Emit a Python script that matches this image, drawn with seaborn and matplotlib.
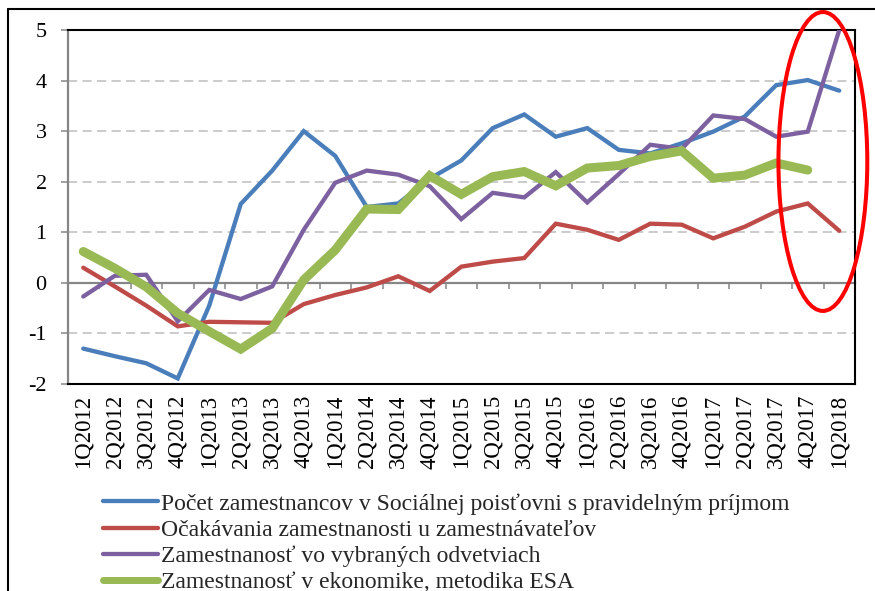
import numpy as np
import pandas as pd
import matplotlib
matplotlib.use("Agg")
import matplotlib.pyplot as plt
from matplotlib.patches import Ellipse
from matplotlib.lines import Line2D
import seaborn as sns

quarters = ["1Q2012", "2Q2012", "3Q2012", "4Q2012", "1Q2013", "2Q2013", "3Q2013", "4Q2013",
            "1Q2014", "2Q2014", "3Q2014", "4Q2014", "1Q2015", "2Q2015", "3Q2015", "4Q2015",
            "1Q2016", "2Q2016", "3Q2016", "4Q2016", "1Q2017", "2Q2017", "3Q2017", "4Q2017",
            "1Q2018"]

social_insurance = [-1.30, -1.45, -1.59, -1.89, -0.45, 1.56, 2.22, 3.00, 2.51, 1.50, 1.57, 2.06,
                    2.42, 3.06, 3.33, 2.89, 3.06, 2.63, 2.56, 2.76, 2.99, 3.29, 3.91, 4.01, 3.80]
employer_expectations = [0.30, -0.07, -0.45, -0.86, -0.77, -0.78, -0.79, -0.42, -0.24, -0.09, 0.13, -0.16,
                         0.32, 0.42, 0.49, 1.17, 1.05, 0.85, 1.17, 1.15, 0.88, 1.11, 1.41, 1.57, 1.03]
selected_sectors = [-0.27, 0.14, 0.16, -0.76, -0.14, -0.32, -0.07, 1.05, 1.98, 2.22, 2.14, 1.91,
                    1.26, 1.78, 1.69, 2.19, 1.59, 2.15, 2.73, 2.65, 3.31, 3.24, 2.89, 2.99, 5.00]
esa_employment = [0.62, 0.29, -0.08, -0.60, -0.96, -1.31, -0.90, 0.06, 0.65, 1.46, 1.45, 2.12,
                  1.75, 2.10, 2.20, 1.92, 2.27, 2.32, 2.50, 2.61, 2.07, 2.13, 2.37, 2.23, np.nan]

series_names = [
    "Počet zamestnancov v Sociálnej poisťovni s pravidelným príjmom",
    "Očakávania zamestnanosti u zamestnávateľov",
    "Zamestnanosť vo vybraných odvetviach",
    "Zamestnanosť v ekonomike, metodika ESA",
]
series_values = [social_insurance, employer_expectations, selected_sectors, esa_employment]
colors = ["#4A7EBB", "#BE4B48", "#7D60A0", "#98B954"]
widths = [3.1, 3.1, 3.1, 6.5]

y_ticks = [-2, -1, 0, 1, 2, 3, 4, 5]

sns.set_theme(style="white")
plt.rcParams["font.family"] = ["Liberation Serif", "DejaVu Serif"]
plt.rcParams["axes.unicode_minus"] = False

fig = plt.figure(figsize=(8.75, 5.91), dpi=100)
W, H = 875, 591
ax = fig.add_axes([67.5 / W, 1 - 384 / H, (855 - 67.5) / W, (384 - 30) / H])

idx = np.arange(len(quarters))
handles = []
for name, vals, c, lw in zip(series_names, series_values, colors, widths):
    df = pd.DataFrame({"x": idx, "y": vals})
    sns.lineplot(data=df, x="x", y="y", ax=ax, color=c, linewidth=lw,
                 solid_capstyle="round", solid_joinstyle="miter", legend=False, zorder=3)
    handles.append(Line2D([0], [0], color=c, lw=min(lw, 5.0), solid_capstyle="round", label=name))

ax.set_xlim(-0.5, len(quarters) - 0.5)
ax.set_ylim(-2, 5)
ax.set_yticks(y_ticks)
ax.set_yticklabels([str(v) for v in y_ticks])
ax.set_xticks(idx)
ax.set_xticklabels(quarters, rotation=90)
ax.set_xlabel("")
ax.set_ylabel("")

ax.tick_params(axis="x", length=0, pad=8, labelsize=16.5, colors="black")
ax.tick_params(axis="y", left=True, length=5, width=1.1, color="#868686", pad=10,
               labelsize=16, labelcolor="black", direction="out")

ax.yaxis.grid(True, color="#BDBDBD", linewidth=1.1, linestyle=(0, (6, 3.5)))
ax.xaxis.grid(False)

for side in ["top", "right", "bottom"]:
    ax.spines[side].set_color("black")
    ax.spines[side].set_linewidth(1.5)
ax.spines["left"].set_color("#868686")
ax.spines["left"].set_linewidth(1.6)

# category axis crossing at zero
zero_frac = (0 - (-2)) / (5 - (-2))
secax = ax.secondary_xaxis(zero_frac)
secax.set_xticks(np.arange(-0.5, len(quarters), 1.0))
secax.set_xticklabels([])
secax.tick_params(axis="x", direction="out", length=4.5, width=1.1, color="#868686")
secax.spines["bottom"].set_color("#868686")
secax.spines["bottom"].set_linewidth(1.6)
secax.set_zorder(1)

# red highlight ellipse around the latest data
ell = Ellipse((23.48, 2.40), width=2.82, height=5.91, fill=False, edgecolor="#FF0000",
              linewidth=2.9, clip_on=False, zorder=5)
ax.add_patch(ell)

# outer frame (top and left visible)
fx = 7.5 / W
fy = 1 - 9 / H
fig.add_artist(Line2D([fx, fx], [-0.05, fy], color="black", lw=1.5, transform=fig.transFigure))
fig.add_artist(Line2D([fx, 1.05], [fy, fy], color="black", lw=1.5, transform=fig.transFigure))

fig.legend(handles=handles, loc="upper left", bbox_to_anchor=(103 / W, 1 - 493 / H),
           frameon=False, fontsize=17, handlelength=2.35, handletextpad=0.12,
           borderpad=0, borderaxespad=0, labelspacing=0.2)

fig.savefig("out.png", dpi=100)
